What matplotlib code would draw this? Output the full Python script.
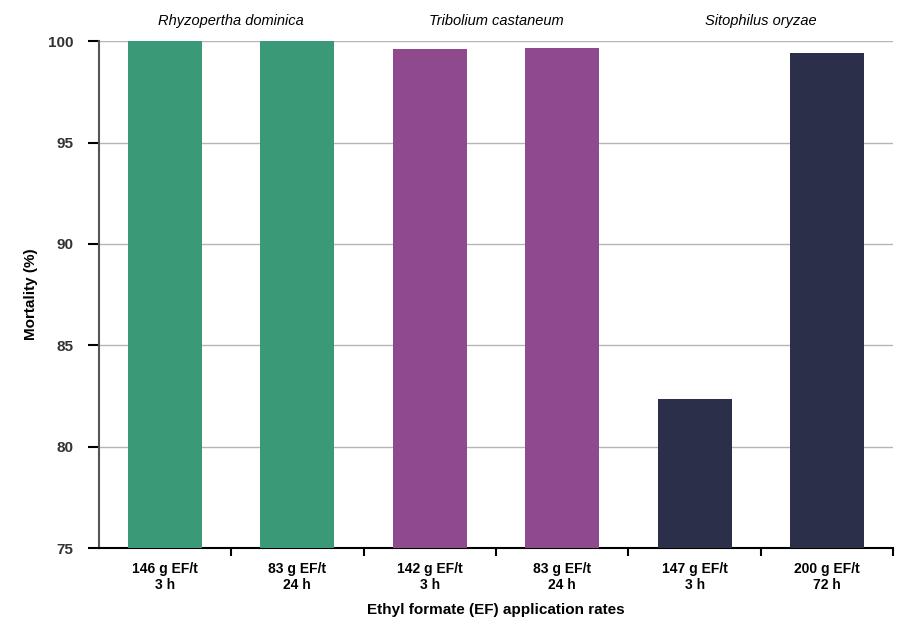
import matplotlib.pyplot as plt
import numpy as np

plt.rcParams['font.family'] = ['Liberation Sans', 'DejaVu Sans']

# data
rates = ['146 g EF/t\n3 h', '83 g EF/t\n24 h', '142 g EF/t\n3 h',
         '83 g EF/t\n24 h', '147 g EF/t\n3 h', '200 g EF/t\n72 h']
mortality = [100.0, 100.0, 99.6, 99.65, 82.35, 99.4]
species = ['Rhyzopertha dominica', 'Tribolium castaneum', 'Sitophilus oryzae']
colors = ['#3a9a78', '#3a9a78', '#8e4a8c', '#8e4a8c', '#2b2f4a', '#2b2f4a']

fig = plt.figure(figsize=(8.97, 6.23), dpi=100)
ax = fig.add_axes([0.110, 0.120, 0.886, 0.814])

x = np.arange(len(rates))
ax.bar(x, mortality, width=0.56, color=colors, zorder=3)

ax.set_ylim(75, 100)
ax.set_xlim(-0.5, len(rates) - 0.5)
ax.set_yticks(np.arange(75, 101, 5))
ax.yaxis.grid(True, color='#b5b5b5', linewidth=1.0, zorder=0)

# category labels centred, ticks on boundaries
ax.set_xticks(x)
ax.set_xticklabels(rates, fontsize=10, fontweight='bold', linespacing=1.15)
ax.tick_params(axis='x', length=0, pad=10)
ax.set_xticks(np.arange(0.5, len(rates), 1), minor=True)
ax.tick_params(axis='x', which='minor', length=6, width=1.5, direction='out')
ax.tick_params(axis='y', length=8, width=1.5, labelsize=11, pad=10)
for lab in ax.get_yticklabels():
    lab.set_fontweight('bold')
    lab.set_color('#333333')

for s in ['top', 'right']:
    ax.spines[s].set_visible(False)
ax.spines['left'].set_linewidth(1.5)
ax.spines['left'].set_color('#555555')
ax.spines['bottom'].set_linewidth(1.5)

ax.set_ylabel('Mortality (%)', fontsize=11, fontweight='bold', labelpad=7)
ax.set_xlabel('Ethyl formate (EF) application rates', fontsize=11,
              fontweight='bold', labelpad=8)

for i, name in enumerate(species):
    ax.text(2 * i + 0.5, 1.025, name, transform=ax.get_xaxis_transform(),
            ha='center', va='bottom', fontsize=10.5, style='italic')

fig.savefig('out.png', dpi=100)
